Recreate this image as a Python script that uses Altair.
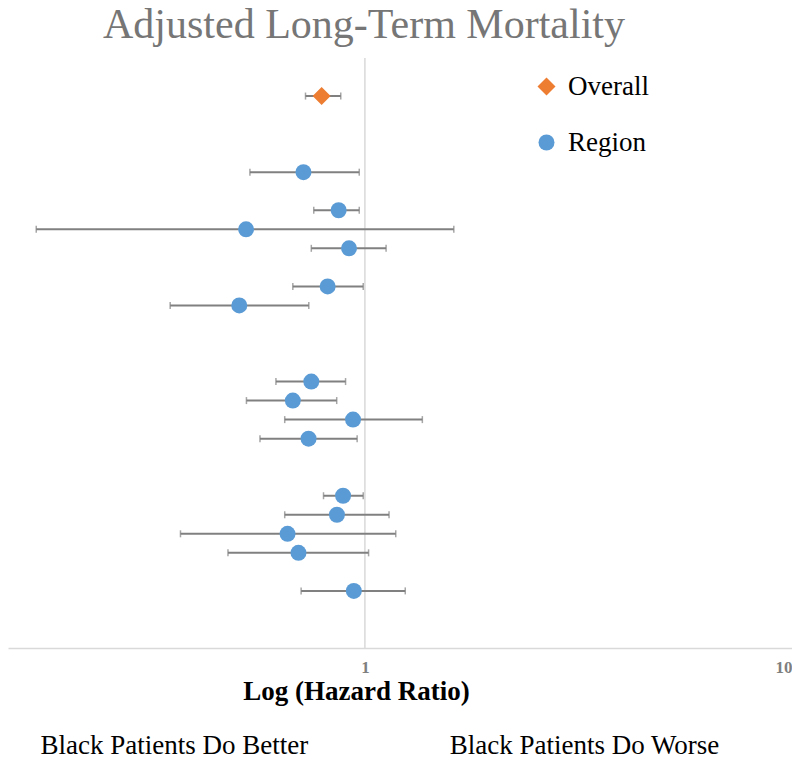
import altair as alt
import pandas as pd

# ---- data ----
groups = ["Overall"] + ["Region"] * 15
rows = [0, 4, 6, 7, 8, 10, 11, 15, 16, 17, 18, 21, 22, 23, 24, 26]
hr = [0.792, 0.718, 0.868, 0.527, 0.918, 0.818, 0.508, 0.749, 0.678, 0.938,
      0.738, 0.889, 0.860, 0.659, 0.699, 0.942]
lo = [0.726, 0.538, 0.759, 0.170, 0.749, 0.678, 0.350, 0.619, 0.528, 0.649,
      0.568, 0.800, 0.649, 0.370, 0.478, 0.709]
hi = [0.878, 0.970, 0.970, 1.615, 1.121, 0.991, 0.739, 0.901, 0.859, 1.363,
      0.959, 0.991, 1.139, 1.181, 1.020, 1.243]

note_labels = ["Black Patients Do Better", "Black Patients Do Worse"]
note_x = [0.174, 1.58]

title_text = ["Adjusted Long-Term Mortality"]

tick_values = [1, 10]

df = pd.DataFrame({"group": groups, "row": rows, "hr": hr, "lo": lo, "hi": hi})
notes = pd.DataFrame({"label": note_labels, "x": note_x})
ref = pd.DataFrame({"x": [1]})
title_df = pd.DataFrame({"t": title_text})

FONT = "Liberation Serif"

xscale = alt.Scale(type="log", domain=[0.146, 10], nice=False)
yscale = alt.Scale(domain=[-2, 29], reverse=True, nice=False, zero=False)

xaxis = alt.Axis(values=tick_values, format="~g", grid=False, ticks=False,
                 domainColor="#d9d9d9", domainWidth=1.5,
                 labelFont=FONT, labelFontWeight="bold", labelFontSize=17,
                 labelColor="#7f7f7f", labelPadding=11, labelFlush=True,
                 title="Log (Hazard Ratio)", titleFont=FONT, titleFontSize=27,
                 titleFontWeight="bold", titleColor="#000000", titlePadding=3,
                 titleX=348, titleAlign="center")

legend = alt.Legend(title=None, orient="none", legendX=525, legendY=15,
                    symbolSize=676, labelFont=FONT, labelFontSize=27,
                    labelColor="#000000", labelOffset=8, rowPadding=28,
                    padding=0, symbolStrokeWidth=0)

base = alt.Chart(df)

gridline = alt.Chart(ref).mark_rule(color="#d9d9d9", strokeWidth=1.5).encode(
    x=alt.X("x:Q", scale=xscale, axis=xaxis)
)

bars = base.mark_rule(color="#808080", strokeWidth=2).encode(
    x=alt.X("lo:Q", scale=xscale),
    x2="hi:Q",
    y=alt.Y("row:Q", scale=yscale, axis=None),
)

caps = base.transform_fold(["lo", "hi"], as_=["end", "val"]).mark_tick(
    orient="vertical", color="#808080", thickness=1.5, size=7
).encode(
    x=alt.X("val:Q", scale=xscale),
    y=alt.Y("row:Q", scale=yscale, axis=None),
)

points = base.mark_point(filled=True, opacity=1, strokeWidth=0).encode(
    x=alt.X("hr:Q", scale=xscale),
    y=alt.Y("row:Q", scale=yscale, axis=None),
    color=alt.Color("group:N",
                    scale=alt.Scale(domain=["Overall", "Region"],
                                    range=["#ed7d31", "#5b9bd5"]),
                    legend=legend),
    shape=alt.Shape("group:N",
                    scale=alt.Scale(domain=["Overall", "Region"],
                                    range=["diamond", "circle"]),
                    legend=legend),
    size=alt.Size("group:N",
                  scale=alt.Scale(domain=["Overall", "Region"], range=[324, 256]),
                  legend=None),
)

texts = alt.Chart(notes).mark_text(font=FONT, fontSize=27, align="left",
                                   baseline="alphabetic", color="#000000").encode(
    x=alt.X("x:Q", scale=xscale),
    y=alt.value(696),
    text="label:N",
)

title = alt.Chart(title_df).mark_text(font=FONT, fontSize=42, align="center",
                                      baseline="alphabetic", color="#767676").encode(
    x=alt.value(356),
    y=alt.value(-20),
    text="t:N",
)

chart = alt.layer(gridline, bars, caps, points, texts, title).properties(
    width=784,
    height=590,
    autosize=alt.AutoSizeParams(type="none"),
    padding={"left": 0, "top": 50, "right": 0, "bottom": 112},
).configure_view(stroke=None)

chart.save("out.html", embed_options={"renderer": "svg", "actions": False})
